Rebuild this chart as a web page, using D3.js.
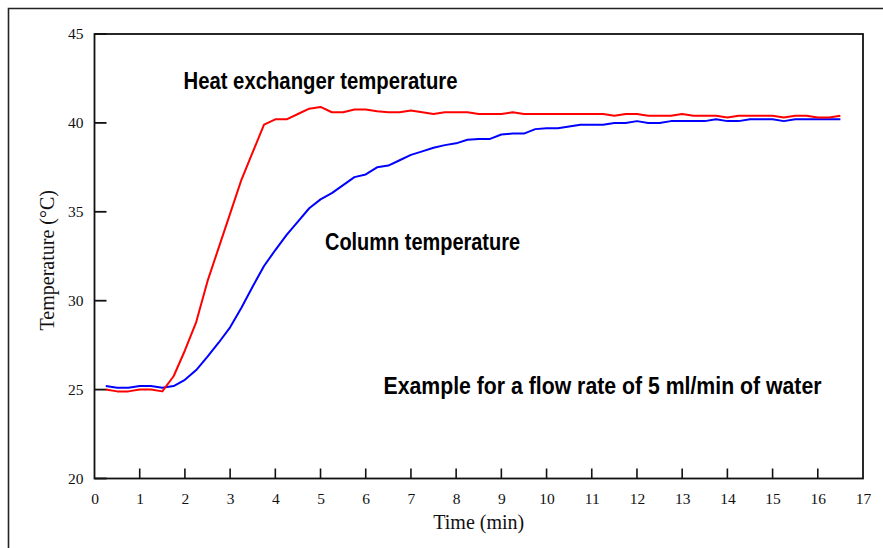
<!DOCTYPE html>
<html>
<head>
<meta charset="utf-8">
<script src="https://cdn.jsdelivr.net/npm/d3@7/dist/d3.min.js"></script>
<style>
  html, body { margin: 0; padding: 0; background: #fff; }
  svg { display: block; }
</style>
</head>
<body>
<script>
// Time axis (min), sampled every quarter minute
const times = [
  0.25, 0.5, 0.75, 1.0, 1.25, 1.5, 1.75, 2.0, 2.25, 2.5, 2.75, 3.0, 3.25, 3.5, 3.75, 4.0,
  4.25, 4.5, 4.75, 5.0, 5.25, 5.5, 5.75, 6.0, 6.25, 6.5, 6.75, 7.0, 7.25, 7.5, 7.75, 8.0,
  8.25, 8.5, 8.75, 9.0, 9.25, 9.5, 9.75, 10.0, 10.25, 10.5, 10.75, 11.0, 11.25, 11.5, 11.75, 12.0,
  12.25, 12.5, 12.75, 13.0, 13.25, 13.5, 13.75, 14.0, 14.25, 14.5, 14.75, 15.0, 15.25, 15.5, 15.75, 16.0,
  16.25, 16.5
];

// Heat exchanger temperature (°C)
const heatExchanger = [
  25.0, 24.9, 24.9, 25.0, 25.0, 24.9, 25.75, 27.2, 28.8, 31.1, 33.0, 34.9, 36.8, 38.35, 39.9, 40.2,
  40.2, 40.5, 40.8, 40.9, 40.6, 40.6, 40.75, 40.75, 40.65, 40.6, 40.6, 40.7, 40.6, 40.5, 40.6, 40.6,
  40.6, 40.5, 40.5, 40.5, 40.6, 40.5, 40.5, 40.5, 40.5, 40.5, 40.5, 40.5, 40.5, 40.4, 40.5, 40.5,
  40.4, 40.4, 40.4, 40.5, 40.4, 40.4, 40.4, 40.3, 40.4, 40.4, 40.4, 40.4, 40.3, 40.4, 40.4, 40.3,
  40.3, 40.4
];

// Column temperature (°C)
const column = [
  25.2, 25.1, 25.1, 25.2, 25.2, 25.1, 25.2, 25.55, 26.1, 26.85, 27.65, 28.5, 29.6, 30.8, 31.95, 32.85,
  33.7, 34.45, 35.2, 35.7, 36.05, 36.5, 36.95, 37.1, 37.5, 37.6, 37.9, 38.2, 38.4, 38.6, 38.75, 38.85,
  39.05, 39.1, 39.1, 39.35, 39.4, 39.4, 39.65, 39.7, 39.7, 39.8, 39.9, 39.9, 39.9, 40.0, 40.0, 40.1,
  40.0, 40.0, 40.1, 40.1, 40.1, 40.1, 40.2, 40.1, 40.1, 40.2, 40.2, 40.2, 40.1, 40.2, 40.2, 40.2,
  40.2, 40.2
];

const xTicks = [0, 1, 2, 3, 4, 5, 6, 7, 8, 9, 10, 11, 12, 13, 14, 15, 16, 17];
const yTicks = [20, 25, 30, 35, 40, 45];

const W = 883, H = 548;
const plot = { left: 94.5, right: 863, top: 34, bottom: 478.5 };

const svg = d3.select("body").append("svg")
  .attr("width", W).attr("height", H);

// page frame (cropped on the right and bottom)
svg.append("path")
  .attr("d", `M8.5,${H + 2} V8.5 H${W + 2}`)
  .attr("fill", "none").attr("stroke", "#222").attr("stroke-width", 1.6);

const x = d3.scaleLinear().domain([0, 17]).range([plot.left, plot.right]);
const y = d3.scaleLinear().domain([20, 45]).range([plot.bottom, plot.top]);

// plot box
svg.append("rect")
  .attr("x", plot.left).attr("y", plot.top)
  .attr("width", plot.right - plot.left).attr("height", plot.bottom - plot.top)
  .attr("fill", "none").attr("stroke", "#111").attr("stroke-width", 1.8);

const serif = "'Liberation Serif', 'DejaVu Serif', serif";

// bottom axis: inward ticks
const xAxis = d3.axisBottom(x).tickValues(xTicks).tickSize(0).tickPadding(14)
  .tickFormat(d3.format("d"));
const gx = svg.append("g").attr("transform", `translate(0,${plot.bottom})`).call(xAxis);
gx.select(".domain").remove();
gx.selectAll("text").attr("font-family", serif).attr("font-size", 15.5).attr("fill", "#111");
svg.append("g").selectAll("line")
  .data(xTicks.filter(d => d > 0 && d < 17))
  .join("line")
  .attr("x1", d => x(d)).attr("x2", d => x(d))
  .attr("y1", plot.bottom).attr("y2", plot.bottom - 10)
  .attr("stroke", "#111").attr("stroke-width", 1.6);

// left axis: inward ticks
const yAxis = d3.axisLeft(y).tickValues(yTicks).tickSize(0).tickPadding(11)
  .tickFormat(d3.format("d"));
const gy = svg.append("g").attr("transform", `translate(${plot.left},0)`).call(yAxis);
gy.select(".domain").remove();
gy.selectAll("text").attr("font-family", serif).attr("font-size", 15.5).attr("fill", "#111");
svg.append("g").selectAll("line")
  .data(yTicks)
  .join("line")
  .attr("x1", plot.left).attr("x2", plot.left + 12)
  .attr("y1", d => y(d)).attr("y2", d => y(d))
  .attr("stroke", "#111").attr("stroke-width", 1.8);

// axis titles
svg.append("text")
  .attr("x", x(8.5)).attr("y", 529)
  .attr("text-anchor", "middle")
  .attr("font-family", serif).attr("font-size", 20).attr("fill", "#111")
  .text("Time (min)");
svg.append("text")
  .attr("transform", `translate(54,${(plot.top + plot.bottom) / 2 + 4}) rotate(-90)`)
  .attr("text-anchor", "middle")
  .attr("font-family", serif).attr("font-size", 20).attr("fill", "#111")
  .text("Temperature (°C)");

// temperature curves
const line = d3.line()
  .x((d, i) => x(times[i]))
  .y(d => y(d));

svg.append("path").datum(column)
  .attr("d", line)
  .attr("fill", "none").attr("stroke", "#0000ff").attr("stroke-width", 2)
  .attr("stroke-linejoin", "round");
svg.append("path").datum(heatExchanger)
  .attr("d", line)
  .attr("fill", "none").attr("stroke", "#ff0000").attr("stroke-width", 2)
  .attr("stroke-linejoin", "round");

// annotations
const sans = "'Liberation Sans Narrow', 'Liberation Sans', Arial, sans-serif";
const notes = [
  { text: "Heat exchanger temperature", x: 183.5, y: 88.5, w: 274 },
  { text: "Column temperature", x: 325, y: 250, w: 195 },
  { text: "Example for a flow rate of 5 ml/min of water", x: 383.5, y: 393.5, w: 438 }
];
svg.append("g").selectAll("text")
  .data(notes)
  .join("text")
  .attr("x", d => d.x).attr("y", d => d.y)
  .attr("font-family", sans).attr("font-weight", "bold").attr("font-size", 23)
  .attr("fill", "#000")
  .attr("textLength", d => d.w).attr("lengthAdjust", "spacingAndGlyphs")
  .text(d => d.text);
</script>
</body>
</html>
